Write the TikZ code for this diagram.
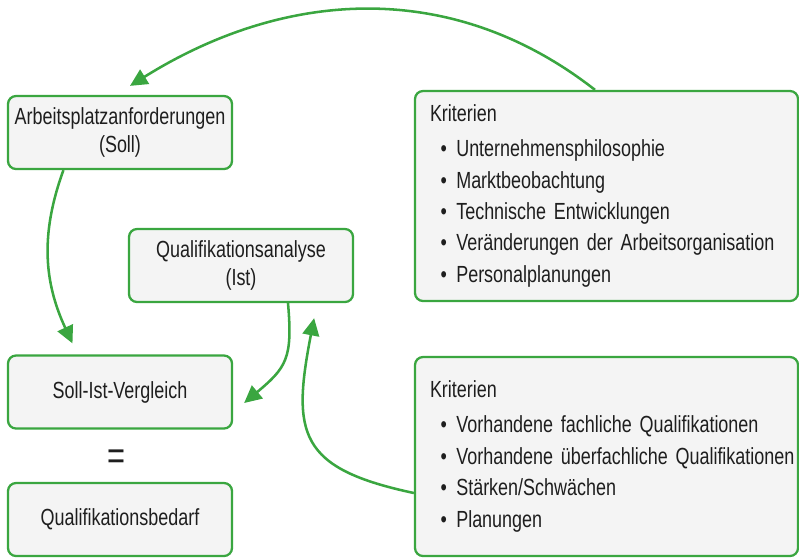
\documentclass[tikz,border=0pt]{standalone}
\usepackage{fontspec}
\setmainfont{Liberation Sans}[FakeStretch=0.77]
\usetikzlibrary{arrows.meta,positioning,calc}
\definecolor{boxgreen}{RGB}{58,166,64}
\definecolor{boxfill}{RGB}{244,244,244}
\definecolor{txtgray}{RGB}{30,30,30}
\newcommand{\boxfont}{\fontsize{17.5}{20.5}\selectfont\fontdimen2\font=2.6pt\relax}
\newcommand{\critfont}{\fontsize{17.5}{23.6}\selectfont\fontdimen2\font=2.6pt\relax}
\newcommand{\critem}[1]{\mbox{\hspace*{8pt}\textbullet\hspace{7pt}#1}}

\begin{document}
\begin{tikzpicture}[x=0.75pt,y=-0.75pt,
        font=\boxfont, text=txtgray,
        box/.style={draw=boxgreen,fill=boxfill,line width=1.7pt,rounded corners=6pt,
            align=center,minimum width=168pt,minimum height=54.75pt,inner sep=0pt},
        critbox/.style={box,align=left,minimum width=287.25pt,text width=264.75pt,
            inner xsep=11.25pt,font=\critfont},
        flow/.style={draw=boxgreen,line width=1.9pt,-{Triangle[length=13pt,width=12.5pt]}}]
    \useasboundingbox (0,0) rectangle (799,558);

    % left column
    \node [box] (soll) at (120,132.5) {Arbeitsplatzanforderungen\\(Soll)};
    \node [box] (ist) at (241,265.5) {Qualifikationsanalyse\\(Ist)};
    \node [box] (vergleich) at (120,392) {Soll-Ist-Vergleich};
    \node (gleich) at (116,460) {\fontsize{30}{30}\selectfont =};
    \node [box] (bedarf) at (120,519.5) {Qualifikationsbedarf};

    % criteria
    \node [critbox,minimum height=157.5pt] (kritsoll) at (606.5,196) {Kriterien\\[2.6pt]
        \critem{Unternehmensphilosophie}\\
        \critem{Marktbeobachtung}\\
        \critem{Technische Entwicklungen}\\
        \critem{Veränderungen der Arbeitsorganisation}\\
        \critem{Personalplanungen}};
    \node [critbox,minimum height=149.25pt] (kritist) at (606.5,456.5) {Kriterien\\[2.6pt]
        \critem{Vorhandene fachliche Qualifikationen}\\
        \critem{Vorhandene überfachliche Qualifikationen}\\
        \critem{Stärken/Schwächen}\\
        \critem{Planungen}};

    \draw [flow] ($(kritsoll.north)+(-11.5,0)$) to[out=142,in=32] ($(soll.north)+(10,-9)$);
    \draw [flow] ($(soll.south west)!0.25!(soll.south east)$) to[out=250,in=115]
        ($(vergleich.north west)!0.29!(vergleich.north east)+(0,-11)$);
    \draw [flow] ($(ist.south)+(47,0)$) to[out=-85,in=40,looseness=1.3] ($(vergleich.east)+(11,11)$);
    \draw [flow] ($(kritist.west)+(0,36.5)$) to[out=168,in=-101,looseness=1.5] ($(ist.south east)+(-40,15)$);
\end{tikzpicture}
\end{document}
